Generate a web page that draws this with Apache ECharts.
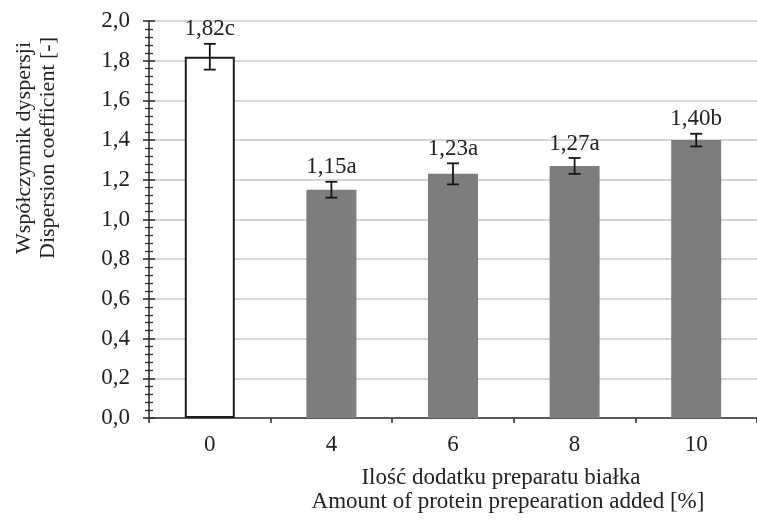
<!DOCTYPE html>
<html>
<head>
<meta charset="utf-8">
<script src="https://cdn.jsdelivr.net/npm/echarts@6/dist/echarts.min.js"></script>
<style>
  html, body { margin: 0; padding: 0; background: #ffffff; }
  #chart { width: 757px; height: 522px; }
</style>
</head>
<body>
<div id="chart"></div>
<script>
// Protein preparation dose (%) and the measured dispersion coefficient
const categories = ['0', '4', '6', '8', '10'];
const means = [1.82, 1.15, 1.23, 1.27, 1.40];
const errors = [0.065, 0.04, 0.053, 0.04, 0.032];
const groups = ['c', 'a', 'a', 'a', 'b'];

const yMin = 0, yMax = 2.0, yStep = 0.2;
const yTitle = ['Współczynnik dyspersji', 'Dispersion coefficient [-]'];
const xTitle = ['Ilość dodatku preparatu białka', 'Amount of protein prepearation added [%]'];

const FONT = '"Liberation Serif", "Times New Roman", serif';
const TEXT = '#222222';
const AXIS = '#333333';

const fmt = v => v.toFixed(2).replace('.', ',');

const chart = echarts.init(document.getElementById('chart'), null, { renderer: 'canvas' });

const yCommon = {
  type: 'value', min: yMin, max: yMax, interval: yStep, position: 'left'
};

chart.setOption({
  animation: false,
  backgroundColor: '#ffffff',
  grid: { left: 149, top: 21, right: -8, bottom: 104, containLabel: false },
  xAxis: {
    type: 'category',
    data: categories,
    boundaryGap: true,
    axisLine: { lineStyle: { color: AXIS, width: 1.6 } },
    axisTick: { show: true, length: 5, inside: false, lineStyle: { color: AXIS, width: 1.6 } },
    axisLabel: { margin: 15, fontFamily: FONT, fontSize: 23, color: TEXT }
  },
  yAxis: [
    Object.assign({}, yCommon, {
      axisLine: { show: true, lineStyle: { color: AXIS, width: 1.6 } },
      axisTick: { show: true, length: 6, lineStyle: { color: AXIS, width: 1.6 } },
      minorTick: { show: true, splitNumber: 5, length: 4, lineStyle: { color: AXIS, width: 1.4 } },
      axisLabel: {
        margin: 19, fontFamily: FONT, fontSize: 23, color: TEXT,
        formatter: v => v.toFixed(1).replace('.', ',')
      },
      splitLine: { show: true, lineStyle: { color: '#c9c9c9', width: 1.5 } }
    }),
    // mirror axis carrying the inward halves of the tick marks
    Object.assign({}, yCommon, {
      axisLine: { show: false },
      axisTick: { show: true, inside: true, length: 6, lineStyle: { color: AXIS, width: 1.6 } },
      minorTick: { show: true, splitNumber: 5, length: 4, lineStyle: { color: AXIS, width: 1.4 } },
      axisLabel: { show: false },
      splitLine: { show: false }
    })
  ],
  series: [
    {
      type: 'bar',
      barWidth: 50,
      data: means.map((m, i) => ({
        value: m,
        itemStyle: i === 0
          ? { color: '#ffffff', borderColor: '#1e1e1e', borderWidth: 2 }
          : { color: '#7d7d7d' }
      })),
      z: 2
    },
    {
      type: 'custom',
      data: means.map((m, i) => [i, m, errors[i]]),
      z: 5,
      renderItem: function (params, api) {
        const i = api.value(0), m = api.value(1), e = api.value(2);
        const top = api.coord([i, m + e]);
        const bot = api.coord([i, m - e]);
        const cap = 6;
        const stroke = { stroke: '#151515', lineWidth: 1.8 };
        return {
          type: 'group',
          children: [
            { type: 'line', shape: { x1: top[0], y1: top[1], x2: bot[0], y2: bot[1] }, style: stroke },
            { type: 'line', shape: { x1: top[0] - cap, y1: top[1], x2: top[0] + cap, y2: top[1] }, style: stroke },
            { type: 'line', shape: { x1: bot[0] - cap, y1: bot[1], x2: bot[0] + cap, y2: bot[1] }, style: stroke },
            {
              type: 'text',
              style: {
                text: fmt(means[params.dataIndex]) + groups[params.dataIndex],
                x: top[0], y: top[1] - 3,
                textAlign: 'center', textVerticalAlign: 'bottom',
                font: '23px ' + FONT, fill: TEXT
              }
            }
          ]
        };
      }
    }
  ],
  graphic: [
    {
      type: 'group', x: 24, y: 148, rotation: Math.PI / 2,
      children: [
        { type: 'text', style: { text: yTitle[0], x: 0, y: 0, textAlign: 'center', textVerticalAlign: 'middle', font: '22px ' + FONT, fill: TEXT } },
        { type: 'text', style: { text: yTitle[1], x: 0, y: 24, textAlign: 'center', textVerticalAlign: 'middle', font: '22px ' + FONT, fill: TEXT } }
      ]
    },
    { type: 'text', x: 501, y: 478, style: { text: xTitle[0], textAlign: 'center', textVerticalAlign: 'middle', font: '23px ' + FONT, fill: TEXT } },
    { type: 'text', x: 508, y: 502, style: { text: xTitle[1], textAlign: 'center', textVerticalAlign: 'middle', font: '23px ' + FONT, fill: TEXT } }
  ]
});
</script>
</body>
</html>
